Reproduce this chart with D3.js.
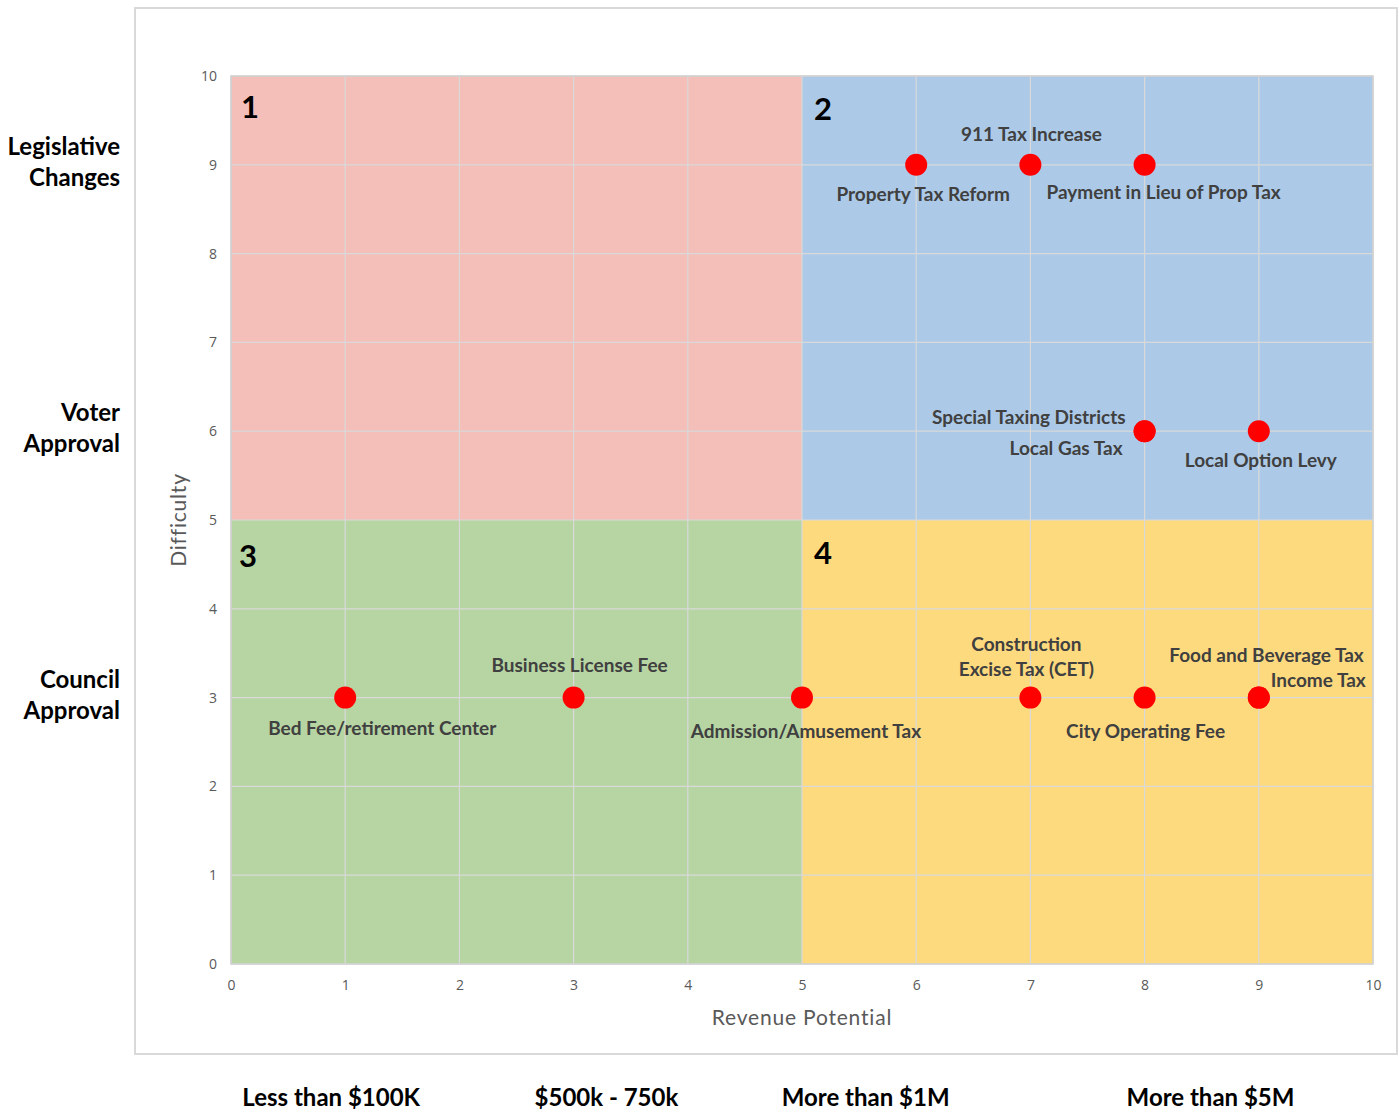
<!DOCTYPE html>
<html><head><meta charset="utf-8">
<script src="https://cdn.jsdelivr.net/npm/d3@7"></script>
<style>
html,body{margin:0;padding:0;background:#fff;}
svg{display:block;font-family:Lato,"Open Sans",sans-serif;}
</style></head>
<body><svg id="chart" width="1399" height="1112"></svg>
<script>
// ---- data ----
const xTicks = [0,1,2,3,4,5,6,7,8,9,10];
const yTicks = [0,1,2,3,4,5,6,7,8,9,10];
const quadrantNames = ["1","2","3","4"];
const quadrantX0 = [0,5,0,5];
const quadrantX1 = [5,10,5,10];
const quadrantY0 = [5,5,0,0];
const quadrantY1 = [10,10,5,5];
const itemNames = ["Property Tax Reform","911 Tax Increase","Payment in Lieu of Prop Tax","Special Taxing Districts","Local Gas Tax","Local Option Levy","Bed Fee/retirement Center","Business License Fee","Admission/Amusement Tax","Construction|Excise Tax (CET)","City Operating Fee","Food and Beverage Tax","Income Tax"];
const itemRevenue =    [6,7,8,8,8,9,1,3,5,7,8,9,9];
const itemDifficulty = [9,9,9,6,6,6,3,3,3,3,3,3,3];
const difficultyLevels = ["Legislative|Changes","Voter|Approval","Council|Approval"];
const difficultyLevelAt = [9,6,3];
const revenueLevels = ["Less than $100K","$500k - 750k","More than $1M","More than $5M"];
const revenueLevelAt = [1,3.41,5.68,8.7];
const xTitle = "Revenue Potential";
const yTitle = "Difficulty";

// ---- layout / style ----
const quadColors = ["#F3BFB8","#ACCAE8","#B7D5A3","#FEDA7E"];
const labelLayout = [ // [dx, dy, anchor]
  [7,35,"middle"],[1,-25,"middle"],[19,33,"middle"],
  [-19,-8,"end"],[-22,23,"end"],[2,35,"middle"],
  [37,36,"middle"],[6,-27,"middle"],[4,39,"middle"],
  [-4,-48,"middle"],[1,39,"middle"],[105,-37,"end"],[107,-12,"end"]
];
const svg = d3.select("#chart");
const L=231,R=1373,T=76,B=964;
const x = d3.scaleLinear().domain([0,10]).range([L,R]);
const y = d3.scaleLinear().domain([0,10]).range([B,T]);

svg.append("rect").attr("x",135).attr("y",8).attr("width",1262).attr("height",1046)
  .attr("fill","#fff").attr("stroke","#d9d9d9").attr("stroke-width",2);

// quadrants
svg.selectAll("rect.q").data(quadrantNames).join("rect").attr("class","q")
  .attr("x",(d,i)=>x(quadrantX0[i])).attr("y",(d,i)=>y(quadrantY1[i]))
  .attr("width",(d,i)=>x(quadrantX1[i])-x(quadrantX0[i]))
  .attr("height",(d,i)=>y(quadrantY0[i])-y(quadrantY1[i]))
  .attr("fill",(d,i)=>quadColors[i]);

// gridlines
const g = svg.append("g");
g.selectAll("line.vx").data(xTicks).join("line").attr("x1",d=>x(d)).attr("x2",d=>x(d))
  .attr("y1",T).attr("y2",B).attr("stroke","#d9d9d9").attr("stroke-width",1.2);
g.selectAll("line.hy").data(yTicks).join("line").attr("y1",d=>y(d)).attr("y2",d=>y(d))
  .attr("x1",L).attr("x2",R).attr("stroke","#d9d9d9").attr("stroke-width",1.2);
svg.append("rect").attr("x",L).attr("y",T).attr("width",R-L).attr("height",B-T)
  .attr("fill","none").attr("stroke","#d0d0d0").attr("stroke-width",1.5);

// axes
const xAxis = svg.append("g").attr("transform",`translate(0,${B})`)
  .call(d3.axisBottom(x).tickValues(xTicks).tickSize(0).tickPadding(16).tickFormat(d3.format("d")));
const yAxis = svg.append("g").attr("transform",`translate(${L},0)`)
  .call(d3.axisLeft(y).tickValues(yTicks).tickSize(0).tickPadding(14).tickFormat(d3.format("d")));
[xAxis,yAxis].forEach(a=>{a.select(".domain").remove();
  a.selectAll("text").attr("fill","#595959").attr("font-size",14).attr("font-family","'Open Sans',sans-serif");});

svg.append("text").attr("x",(L+R)/2).attr("y",1025).attr("text-anchor","middle")
  .attr("font-size",21).attr("fill","#595959").attr("letter-spacing",0.8).text(xTitle);
svg.append("text").attr("transform",`translate(186,${(T+B)/2}) rotate(-90)`).attr("text-anchor","middle")
  .attr("font-size",21).attr("fill","#595959").attr("letter-spacing",0.8).text(yTitle);

// quadrant numbers
const qPos=[[10,42],[12,44],[8,47],[12,44]];
svg.selectAll("text.qn").data(quadrantNames).join("text").attr("class","qn")
  .attr("x",(d,i)=>x(quadrantX0[i])+qPos[i][0]).attr("y",(d,i)=>y(quadrantY1[i])+qPos[i][1])
  .attr("font-size",31).attr("font-weight",700).attr("fill","#000").text(d=>d);

// points
const idx = d3.range(itemNames.length);
svg.selectAll("circle.p").data(idx).join("circle").attr("class","p")
  .attr("cx",i=>x(itemRevenue[i])).attr("cy",i=>y(itemDifficulty[i])).attr("r",11).attr("fill","#FF0000");

// labels
idx.forEach(i=>{
  const lines = itemNames[i].split("|");
  const t = svg.append("text").attr("text-anchor",labelLayout[i][2])
    .attr("font-size",19).attr("font-weight",700).attr("fill","#404040");
  lines.forEach((ln,k)=>t.append("tspan").attr("x",x(itemRevenue[i])+labelLayout[i][0])
    .attr("y",y(itemDifficulty[i])+labelLayout[i][1]+k*25+1).text(ln));
});

// left labels
difficultyLevels.forEach((s,i)=>{
  const t=svg.append("text").attr("text-anchor","end").attr("font-size",24).attr("font-weight",700).attr("fill","#000");
  s.split("|").forEach((ln,k)=>t.append("tspan").attr("x",120).attr("y",y(difficultyLevelAt[i])-10+k*31).text(ln));
});
// bottom labels
svg.selectAll("text.rl").data(revenueLevels).join("text").attr("class","rl")
  .attr("x",(d,i)=>x(revenueLevelAt[i])-14).attr("y",1106).attr("text-anchor","middle")
  .attr("font-size",24).attr("font-weight",700).attr("fill","#000").text(d=>d);
</script></body></html>
